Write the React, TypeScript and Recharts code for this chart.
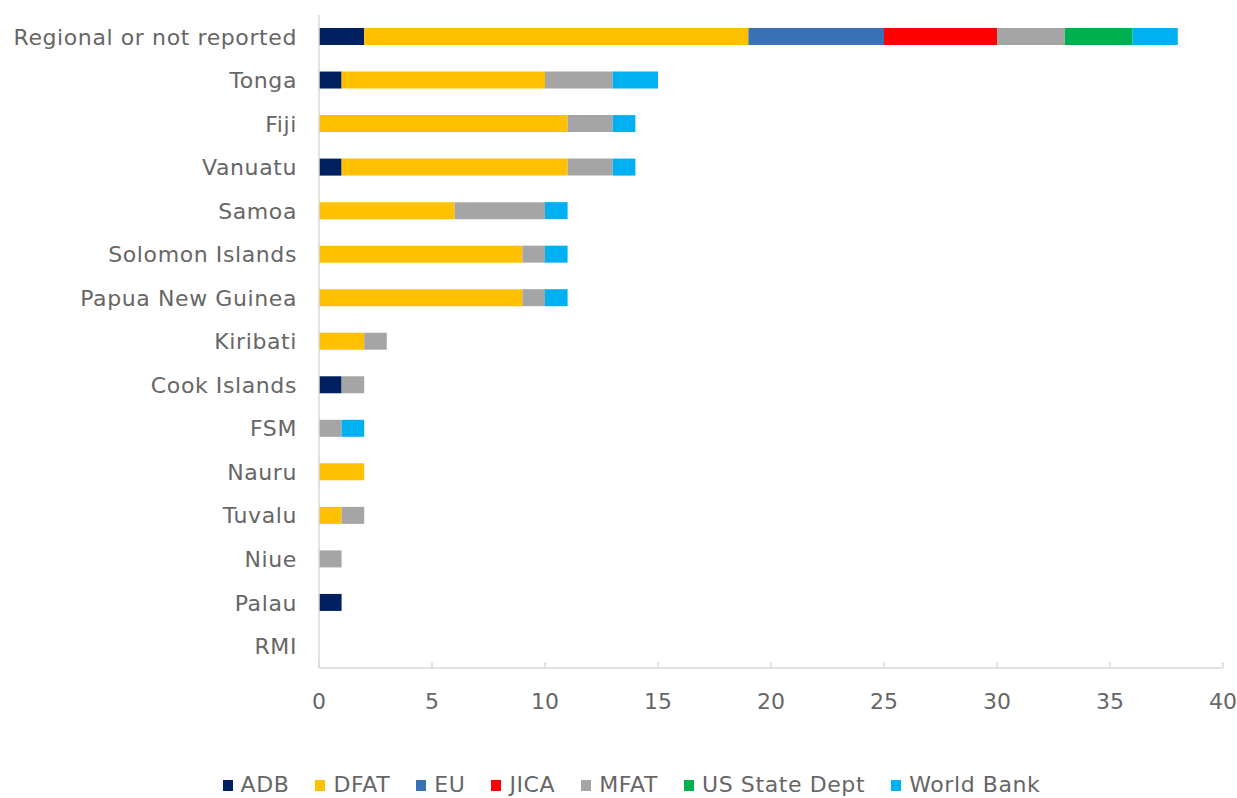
import React from "react"
import { Bar, BarChart, Legend, XAxis, YAxis } from "recharts"

const countries = [
    "Regional or not reported",
    "Tonga",
    "Fiji",
    "Vanuatu",
    "Samoa",
    "Solomon Islands",
    "Papua New Guinea",
    "Kiribati",
    "Cook Islands",
    "FSM",
    "Nauru",
    "Tuvalu",
    "Niue",
    "Palau",
    "RMI",
]

const adb = [2, 1, 0, 1, 0, 0, 0, 0, 1, 0, 0, 0, 0, 1, 0]
const dfat = [17, 9, 11, 10, 6, 9, 9, 2, 0, 0, 2, 1, 0, 0, 0]
const eu = [6, 0, 0, 0, 0, 0, 0, 0, 0, 0, 0, 0, 0, 0, 0]
const jica = [5, 0, 0, 0, 0, 0, 0, 0, 0, 0, 0, 0, 0, 0, 0]
const mfat = [3, 3, 2, 2, 4, 1, 1, 1, 1, 1, 0, 1, 1, 0, 0]
const usState = [3, 0, 0, 0, 0, 0, 0, 0, 0, 0, 0, 0, 0, 0, 0]
const worldBank = [2, 2, 1, 1, 1, 1, 1, 0, 0, 1, 0, 0, 0, 0, 0]

const xTicks = [0, 5, 10, 15, 20, 25, 30, 35, 40]

const series = [
    { key: "ADB", values: adb, color: "#002060" },
    { key: "DFAT", values: dfat, color: "#FFC000" },
    { key: "EU", values: eu, color: "#3A70B5" },
    { key: "JICA", values: jica, color: "#FF0000" },
    { key: "MFAT", values: mfat, color: "#A5A5A5" },
    { key: "US State Dept", values: usState, color: "#00B050" },
    { key: "World Bank", values: worldBank, color: "#00B0F0" },
]

const data = countries.map((name, i) => {
    const row: Record<string, string | number> = { name }
    series.forEach((s) => {
        row[s.key] = s.values[i]
    })
    return row
})

const font = "'DejaVu Sans', sans-serif"
const textColor = "#666666"
const axisColor = "#D9D9D9"

function LegendContent() {
    return (
        <div
            style={{
                display: "flex",
                justifyContent: "center",
                gap: 26,
                fontFamily: font,
                fontSize: 22,
                letterSpacing: 0.6,
                color: textColor,
                lineHeight: "26px",
                paddingLeft: 26,
            }}
        >
            {series.map((s) => (
                <div key={s.key} style={{ display: "flex", alignItems: "center" }}>
                    <span
                        style={{
                            width: 10,
                            height: 11,
                            background: s.color,
                            marginRight: 8,
                            display: "inline-block",
                        }}
                    />
                    <span>{s.key}</span>
                </div>
            ))}
        </div>
    )
}

export default function App() {
    return (
        <div style={{ position: "absolute", left: 0, top: 0 }}>
            <BarChart
                width={1237}
                height={798}
                data={data}
                layout="vertical"
                barSize={17}
                margin={{ top: 15, right: 14, bottom: 44, left: 0 }}
            >
                <XAxis
                    type="number"
                    domain={[0, 40]}
                    ticks={xTicks}
                    interval={0}
                    stroke={axisColor}
                    strokeWidth={1.5}
                    tickSize={-6}
                    tickMargin={31}
                    height={60}
                    tick={{ fill: textColor, fontSize: 22, fontFamily: font }}
                />
                <YAxis
                    type="category"
                    dataKey="name"
                    width={319}
                    stroke={axisColor}
                    strokeWidth={1.5}
                    tickLine={false}
                    tickMargin={16}
                    interval={0}
                    tick={{ fill: textColor, fontSize: 22, fontFamily: font, letterSpacing: 0.6 }}
                />
                <Legend
                    content={<LegendContent />}
                    wrapperStyle={{ top: 772, left: 0, width: 1237, bottom: "auto" }}
                />
                {series.map((s) => (
                    <Bar
                        key={s.key}
                        dataKey={s.key}
                        stackId="a"
                        fill={s.color}
                        isAnimationActive={false}
                    />
                ))}
            </BarChart>
        </div>
    )
}
